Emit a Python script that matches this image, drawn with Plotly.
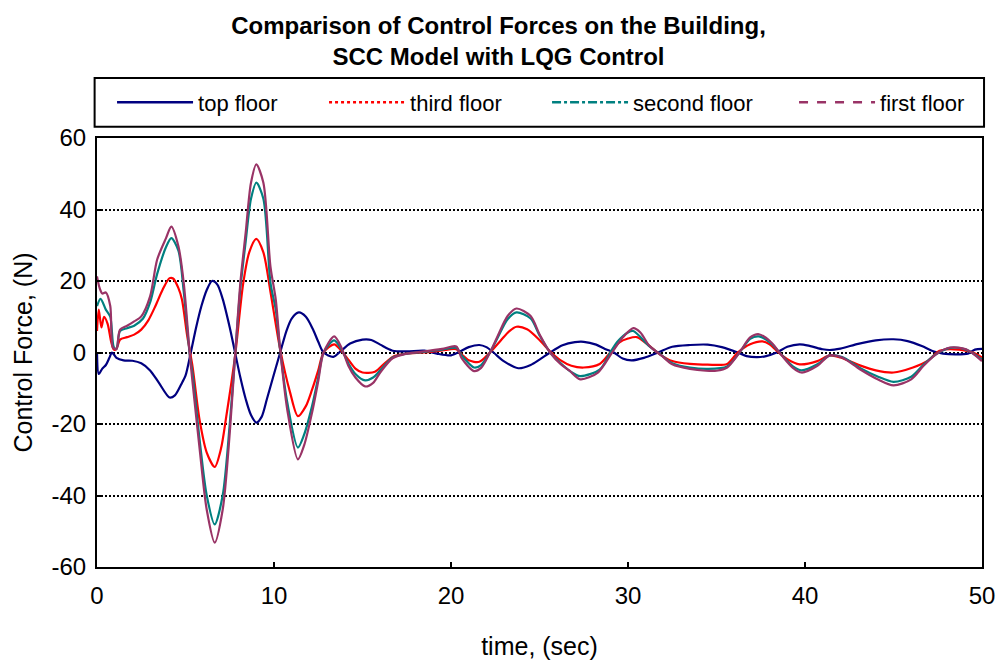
import plotly.graph_objects as go

# Control force histories (N) for each floor, sampled at the listed times (sec)
t_top = [0, 0.1, 0.3, 0.5, 0.7, 0.85, 1.1, 1.5, 2.0, 2.5, 3.0, 3.5, 4.1, 4.4, 4.8, 5.0,
         5.3, 5.6, 5.9, 6.2, 6.5, 6.8, 7.1, 7.5, 7.8, 8.1, 8.4, 8.7, 9.0, 9.3, 9.6, 10.0,
         10.35, 10.7, 11.0, 11.4, 11.8, 12.2, 12.5, 12.8, 13.35, 13.8, 14.3, 15.0, 15.5,
         16.0, 16.7, 17.5, 18.5, 19.2, 20.0, 20.5, 21.0, 21.6, 22.0, 22.4, 23.0, 23.8,
         24.5, 25.0, 25.6, 26.3, 27.0, 27.5, 28.2, 28.7, 29.2, 29.7, 30.2, 30.9, 31.7,
         32.5, 33.5, 34.5, 35.3, 36.2, 36.7, 37.3, 37.8, 38.4, 39.0, 39.7, 40.3, 41.0,
         41.4, 42.0, 43.0, 44.0, 45.0, 45.8, 46.6, 47.2, 47.8, 48.5, 49.2, 49.6, 50.0]
f_top = [0, -6, -4.5, -3.5, -1.5, 0, -1.5, -2.2, -2.3, -3, -5, -8.5, -12.6, -12, -8.5, -6.5,
         0, 7, 13, 17.5, 20, 19, 15, 7, 0, -7, -13, -17.5, -19.6, -18, -13, -6,
         0, 6, 9.5, 11.2, 10, 6.5, 3, 0, -1.2, 0.5, 2.5, 3.6, 3.5,
         2.2, 0.5, 0.3, 0.5, -0.3, -0.8, 0.3, 1.5, 2.1, 1.5, 0, -2.5, -4.4,
         -3.5, -2, 0, 2, 2.9, 3.0, 2.2, 1, 0, -1.7, -2.2, -1.5, 0,
         1.6, 2.1, 2.2, 1.5, 0, -1, -1.3, -1, 0, 1.6, 2.3, 1.8, 0.9,
         0.7, 1.1, 2.4, 3.4, 3.7, 3.2, 1.8, 0.4, -0.3, -0.5, -0.3, 0.8, 1]

t_third = [0, 0.1, 0.25, 0.4, 0.6, 0.8, 0.95, 1.1, 1.3, 1.7, 2.1, 2.5, 2.9, 3.3, 3.7, 4.1,
           4.3, 4.6, 4.8, 5.1, 5.4, 5.8, 6.2, 6.65, 7.0, 7.3, 7.8, 8.25, 8.6, 9.0, 9.4,
           9.8, 10.35, 10.9, 11.35, 11.8, 12.15, 12.5, 12.8, 13.4, 13.8, 14.2, 14.6, 15.0,
           15.7, 16.3, 16.8, 17.5, 18.5, 19.5, 20.3, 20.6, 21.0, 21.6, 22.2, 22.8, 23.3,
           23.7, 24.3, 25.0, 25.6, 26.2, 26.8, 27.5, 28.4, 29.0, 29.5, 30.0, 30.5, 31.2,
           31.8, 32.5, 33.5, 34.5, 35.6, 36.2, 36.9, 37.6, 38.0, 38.4, 39.0, 39.7, 40.7,
           41.4, 42.0, 43.1, 44.0, 45.0, 46.1, 46.9, 47.6, 48.4, 49.5, 50.0]
f_third = [6, 12, 7, 10, 8, 3, 0.8, 1, 3.6, 4.3, 5, 6.4, 9, 13, 17.5, 20.8,
           20.7, 18, 14.8, 4.5, -4, -19, -28, -32, -27, -18, -1, 19, 28, 31.8, 28,
           17, 0.8, -11, -17.8, -15, -10.4, -5, 0, 2.3, 0.5, -2, -4.5, -5.6,
           -5.4, -2.8, -1, -0.3, 0, 0.6, 0.9, -0.5, -2.2, -2.6, 0, 3.3, 6,
           7.2, 6.5, 3.5, 0.3, -2.2, -3.7, -4.2, -3.2, 0, 2.8, 3.9, 4.3, 1.9,
           -0.5, -2.4, -3.2, -3.4, -3.2, 0, 2.3, 3.1, 2.3, 0.5, -1.9, -3.3, -2.4,
           -0.8, -1.4, -3.6, -5, -5.6, -4.2, -2.4, 0.5, 0.9, 0, -1.4]

t_second = [0, 0.2, 0.5, 0.75, 0.95, 1.1, 1.3, 1.7, 2.1, 2.6, 3.0, 3.4, 3.9, 4.2, 4.6,
            4.9, 5.25, 5.4, 5.8, 6.2, 6.65, 7.1, 7.5, 7.8, 8.1, 8.4, 8.7, 9.0, 9.4, 9.8,
            10.1, 10.35, 10.75, 11.35, 11.7, 12.15, 12.5, 12.8, 13.4, 13.8, 14.2, 14.6,
            15.15, 15.6, 16.0, 16.7, 17.5, 18.5, 19.5, 20.3, 20.6, 21.3, 21.7, 22.2, 22.6,
            23.2, 23.7, 24.5, 25.0, 25.6, 26.2, 26.8, 27.3, 28.4, 29.0, 29.4, 30.0, 30.3,
            31.2, 31.9, 32.5, 33.5, 34.5, 35.6, 36.3, 36.9, 37.4, 38.1, 38.7, 39.3, 39.8,
            40.7, 41.4, 42.1, 43.1, 44.1, 45.0, 46.0, 46.7, 47.4, 48.2, 49.1, 50.0]
f_second = [13, 15, 12, 10, 1.5, 1, 6, 6.8, 7.5, 9.5, 14, 22, 29.5, 32, 28.5,
            17, -1, -6, -24.5, -40, -48.1, -40, -20, -1, 18, 31, 43, 47.5, 43, 19.5,
            12, 0.5, -14, -26.6, -23, -15, -7, 0, 3.4, 1, -3, -6,
            -7.8, -7, -5, -1.4, -0.3, 0.2, 0.8, 1.3, -0.8, -4.2, -3.5, 0, 3.8,
            9.3, 11.2, 9.5, 4.8, 0, -3, -5.5, -6.6, -4.8, 0, 3, 5.6, 6.0,
            1.8, -0.8, -3, -4.2, -4.6, -3.9, 0, 3.8, 4.5, 2.5, -0.8, -3.8, -5,
            -3.3, -0.8, -1.3, -4.3, -6.7, -8.2, -6.8, -3.4, -0.5, 1.3, 0.8, -2]

t_first = [0, 0.15, 0.3, 0.5, 0.75, 0.9, 1.1, 1.3, 1.7, 2.1, 2.5, 3.0, 3.4, 3.9, 4.2,
           4.6, 4.9, 5.25, 5.4, 5.8, 6.2, 6.65, 7.1, 7.5, 7.8, 8.1, 8.4, 8.7, 9.0, 9.4,
           9.8, 10.1, 10.35, 10.75, 11.35, 11.7, 12.15, 12.5, 12.8, 13.4, 13.8, 14.2,
           14.6, 15.15, 15.6, 16.0, 16.7, 17.5, 18.5, 19.5, 20.3, 20.6, 21.3, 21.7, 22.2,
           22.6, 23.2, 23.7, 24.5, 25.0, 25.6, 26.2, 26.7, 27.3, 28.3, 29.1, 29.7, 30.3,
           30.7, 31.2, 31.9, 32.5, 33.5, 34.4, 35.0, 35.6, 36.3, 36.9, 37.4, 38.1, 38.7,
           39.3, 39.8, 40.7, 41.4, 42.1, 43.1, 44.1, 45.0, 46.0, 46.7, 47.4, 48.2, 49.1, 50.0]
f_first = [21.3, 18, 16.5, 16.8, 13, 1.4, 1, 6.4, 7.5, 8.7, 10.1, 15.7, 26, 32, 35.2,
           29.7, 19.5, -1, -8.4, -27, -44, -53.2, -44, -22.5, -1, 19.5, 33.5, 47.5, 52.6, 47.5,
           24, 14.8, 0.8, -16, -29.9, -26, -16.8, -8, 0, 4.5, 1.5, -3.7,
           -7, -9.5, -8.5, -5.6, -1.6, -0.3, 0.3, 1, 1.7, -1.6, -5.2, -4.3, 0,
           4.2, 10.2, 12.3, 10.2, 5.1, 0, -3.3, -5.1, -7.5, -5.6, 0, 4.2, 6.8,
           5.6, 1.9, -0.9, -3.3, -4.6, -5.1, -5.1, -4.2, 0, 4.2, 5.1, 2.8, -0.9,
           -4.2, -5.6, -3.7, -0.8, -1.4, -4.7, -7.5, -9.2, -7.5, -3.7, -0.5, 1.4, 0.9, -2.4]

series_names = ["top floor", "third floor", "second floor", "first floor"]
series_colors = ["#000080", "#FF0000", "#008080", "#993366"]
legend_dashes = ["solid", "dot", "dashdot", "dash"]
legend_widths = [121, 132, 156, 100]

x_ticks = [0, 10, 20, 30, 40, 50]
y_ticks = [-60, -40, -20, 0, 20, 40, 60]

FONT = "Liberation Sans, Arial, sans-serif"

fig = go.Figure()

curves = [(t_top, f_top), (t_third, f_third), (t_second, f_second), (t_first, f_first)]
for (tt, ff), name, color in zip(curves, series_names, series_colors):
    fig.add_trace(go.Scatter(
        x=tt, y=ff, mode="lines", name=name, showlegend=False,
        line=dict(color=color, width=2.2, shape="spline", smoothing=0.8),
        hoverinfo="skip",
    ))

# legend keys carry the line patterns
for name, color, dash, lw in zip(series_names, series_colors, legend_dashes, legend_widths):
    fig.add_trace(go.Scatter(
        x=[None], y=[None], mode="lines", name=name, legendwidth=lw,
        line=dict(color=color, width=2.5, dash=dash),
    ))

# legend frame
fig.add_shape(type="rect", xref="paper", yref="paper",
              x0=-0.0027, x1=1.0023, y0=1.026, y1=1.140,
              line=dict(color="black", width=2), fillcolor="white", layer="below")

fig.update_layout(
    width=997, height=664,
    margin=dict(l=97, r=15, t=138, b=97, autoexpand=False),
    paper_bgcolor="white", plot_bgcolor="white",
    font=dict(family=FONT, color="black"),
    title=dict(
        text="<b>Comparison of Control Forces on the Building,<br>SCC Model with LQG Control</b>",
        x=0.5, xref="container", xanchor="center",
        y=0.949, yref="container", yanchor="top",
        font=dict(size=24, family=FONT, color="black"),
    ),
    showlegend=True,
    legend=dict(
        orientation="h", x=0.017, xanchor="left", y=1.083, yanchor="middle",
        xref="paper", yref="paper",
        bgcolor="rgba(0,0,0,0)", borderwidth=0,
        font=dict(size=22, family=FONT, color="black"),
        itemwidth=76, traceorder="normal",
    ),
    xaxis=dict(
        range=[0, 50], tickvals=x_ticks, ticktext=[str(v) for v in x_ticks],
        ticks="inside", ticklen=5, tickwidth=1.5, tickcolor="black",
        showline=True, linecolor="black", linewidth=2, mirror=True,
        showgrid=False, zeroline=False, automargin=False,
        tickfont=dict(size=24, family=FONT, color="black"),
        ticklabelstandoff=6,
        title=dict(text="time, (sec)", font=dict(size=25, family=FONT, color="black"), standoff=30),
    ),
    yaxis=dict(
        range=[-60, 60], tickvals=y_ticks, ticktext=[str(v) for v in y_ticks],
        ticks="inside", ticklen=5, tickwidth=1.5, tickcolor="black",
        showline=True, linecolor="black", linewidth=2, mirror=True,
        showgrid=True, gridcolor="black", gridwidth=1.5, griddash="2px,2px",
        zeroline=False, automargin=False,
        tickfont=dict(size=24, family=FONT, color="black"),
        ticklabelstandoff=4,
        title=dict(text="Control Force, (N)", font=dict(size=25, family=FONT, color="black"), standoff=12),
    ),
)

fig.write_html("out.html")
